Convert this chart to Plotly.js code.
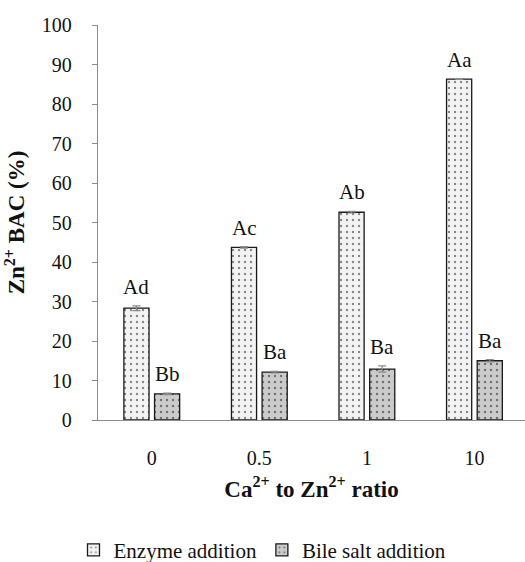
<!DOCTYPE html>
<html><head><meta charset="utf-8">
<script src="https://cdn.plot.ly/plotly-3.0.1.min.js"></script>
<style>html,body{margin:0;padding:0;background:#fff;overflow:hidden}</style>
</head><body>
<div id="chart" style="width:525px;height:562px"></div>
<script>
const categories = ["0", "0.5", "1", "10"];
const enzymeValues = [28.3, 43.7, 52.6, 86.3];
const enzymeErrors = [0.6, 0.2, 0.2, 0.1];
const enzymeLabels = ["Ad", "Ac", "Ab", "Aa"];
const bileValues = [6.6, 12.1, 12.9, 15.0];
const bileErrors = [0.2, 0.2, 0.8, 0.3];
const bileLabels = ["Bb", "Ba", "Ba", "Ba"];

const xpos = categories.map((c, i) => i);
const bargap = 0.43;
const off = (1 - bargap) / 4;
const serif = "Liberation Serif";

const errStyle = {type: "data", visible: true, color: "#8c8c8c", thickness: 1.2, width: 4};

const traces = [
  {type: "bar", name: "Enzyme addition", x: xpos, y: enzymeValues,
   error_y: Object.assign({array: enzymeErrors}, errStyle),
   marker: {color: "#f3f3f3", line: {color: "#1a1a1a", width: 1.3},
     pattern: {shape: ".", fgcolor: "#1a1a1a", fillmode: "overlay", size: 6, solidity: 0.12}}},
  {type: "bar", name: "Bile salt addition", x: xpos, y: bileValues,
   error_y: Object.assign({array: bileErrors}, errStyle),
   marker: {color: "#cbcbcb", line: {color: "#1a1a1a", width: 1.3},
     pattern: {shape: ".", fgcolor: "#1a1a1a", fillmode: "overlay", size: 6, solidity: 0.14}}}
];

const annotations = [];
xpos.forEach((x, i) => {
  annotations.push({x: x - off, y: enzymeValues[i] + enzymeErrors[i], text: enzymeLabels[i],
    showarrow: false, yanchor: "bottom", yshift: 5, font: {family: serif, size: 21, color: "#111"}});
  annotations.push({x: x + off, y: bileValues[i] + bileErrors[i], text: bileLabels[i],
    showarrow: false, yanchor: "bottom", yshift: 5, font: {family: serif, size: 21, color: "#111"}});
});

const layout = {
  width: 525, height: 562,
  margin: {l: 98, r: 0, t: 25, b: 142},
  paper_bgcolor: "#fff", plot_bgcolor: "#fff",
  font: {family: serif, size: 20, color: "#111"},
  barmode: "group", bargap: bargap, bargroupgap: 0.18,
  showlegend: true,
  legend: {orientation: "h", x: 0.5, xanchor: "center", xref: "container", yref: "container", y: 0.021, yanchor: "middle",
    font: {family: serif, size: 21, color: "#111"}, itemwidth: 30, tracegroupgap: 0, traceorder: "normal"},
  xaxis: {range: [-0.5, 3.47], tickmode: "array", tickvals: xpos, ticktext: categories, automargin: false,
    showline: true, linecolor: "#8c8c8c", linewidth: 1.3, ticks: "", showgrid: false, zeroline: false,
    ticklabelstandoff: 20, tickfont: {family: serif, size: 20, color: "#111"},
    title: {text: "<b>Ca<sup>2+</sup> to Zn<sup>2+</sup> ratio</b>", standoff: 12,
      font: {family: serif, size: 23, color: "#111"}}},
  yaxis: {range: [0, 100], dtick: 10, tick0: 0, showline: true, linecolor: "#8c8c8c", linewidth: 1.3, automargin: false,
    ticks: "outside", ticklen: 5, tickcolor: "#8c8c8c", showgrid: false, zeroline: false,
    ticklabelstandoff: 16, tickfont: {family: serif, size: 20, color: "#111"},
    title: {text: "<b>Zn<sup>2+</sup> BAC (%)</b>", standoff: 10,
      font: {family: serif, size: 23, color: "#111"}}},
  annotations: annotations
};

Plotly.newPlot("chart", traces, layout, {displayModeBar: false, staticPlot: true});
</script>
</body></html>
